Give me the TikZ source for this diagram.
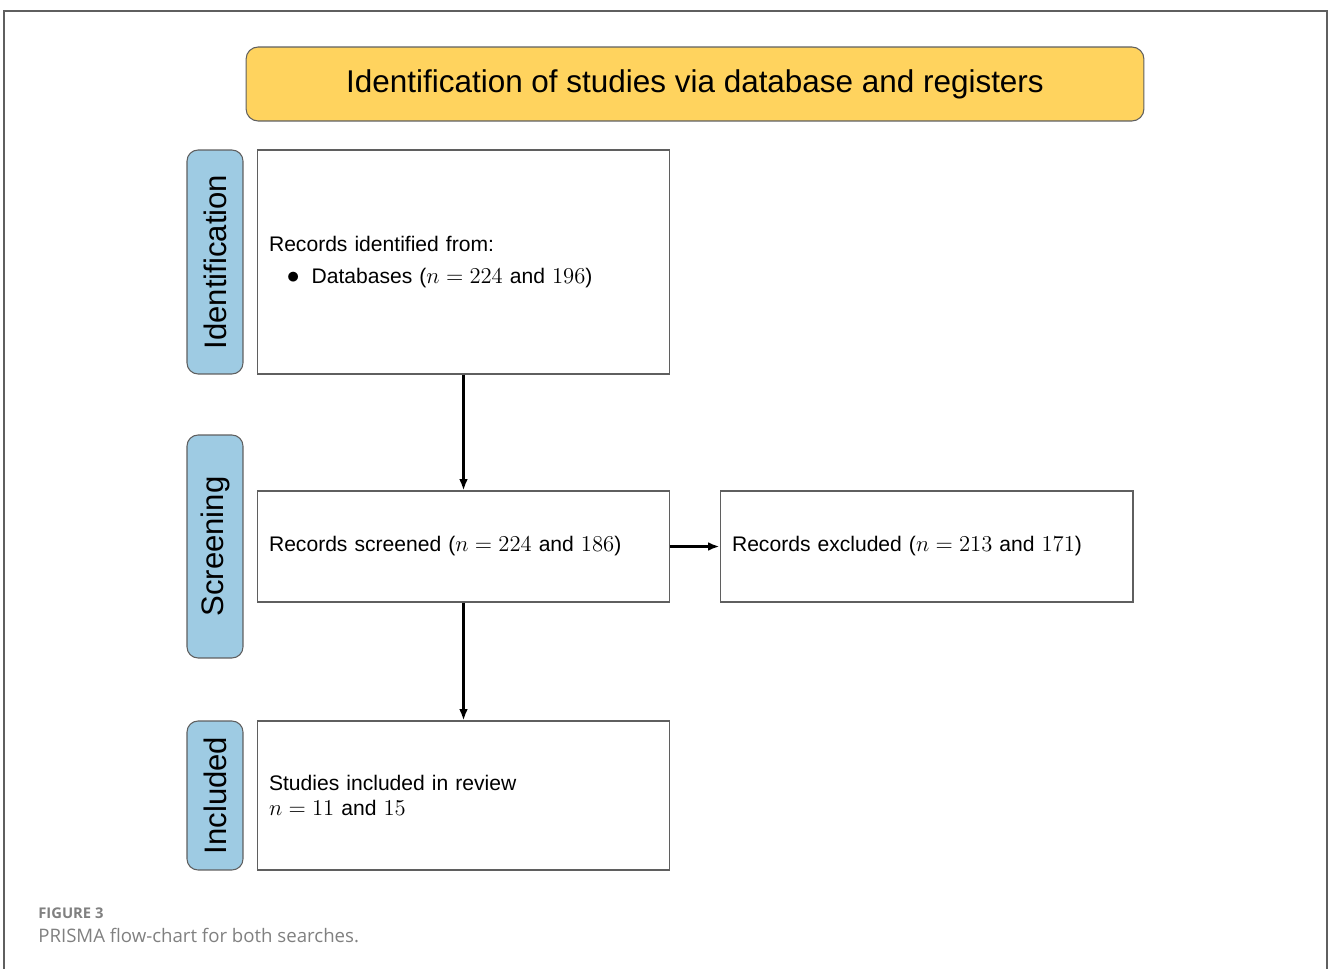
\RequirePackage{fix-cm}
\documentclass[tikz,border=0pt]{standalone}
\usepackage[no-math]{fontspec}
\setmainfont{Liberation Sans}
\newfontfamily\capfont{Open Sans}
\usetikzlibrary{arrows.meta}
\definecolor{frameg}{HTML}{5F5F5F}
\definecolor{titley}{HTML}{FFD35E}
\definecolor{sideb}{HTML}{9ECBE3}
\definecolor{capg}{HTML}{808080}
\newcommand{\mm}[1]{{\fontsize{12.9}{14.5}\selectfont$#1$}}
\begin{document}
\begin{tikzpicture}[x=0.02cm,y=-0.02cm,
  box/.style={draw=frameg, line width=0.6pt, rectangle, minimum width=8.26cm,
    text width=7.78cm, inner xsep=0.24cm, inner ysep=0pt, align=left,
    font=\fontsize{12}{14.5}\selectfont},
  side/.style={draw=frameg, fill=sideb, rounded corners=0.22cm, minimum height=1.12cm,
    inner sep=0pt, line width=0.6pt, rotate=90, font=\fontsize{17.7}{20}\selectfont},
  titlebox/.style={draw=frameg, fill=titley, rounded corners=0.24cm, minimum width=17.96cm,
    minimum height=1.48cm, inner sep=0pt, line width=0.6pt, font=\fontsize{17.9}{20}\selectfont},
  arr/.style={-{Latex[length=6.5pt,width=5pt]}, line width=1.3pt, black},
  captxt/.style={anchor=base west, inner sep=0pt, text=capg}]
\useasboundingbox (0,0) rectangle (1328,969);
\draw[frameg, line width=0.6pt] (4,969) -- (4,11) -- (1327,11) -- (1327,969);
\node[titlebox] (title) at (695,84) {Identification of studies via database and registers};
\node[side, minimum width=4.48cm] (sid) at (215,262) {Identification};
\node[side, minimum width=4.46cm] (sscr) at (215,546.5) {Screening};
\node[side, minimum width=2.98cm] (sinc) at (215,795.5) {Included};
\node[box, minimum height=4.48cm] (b1) at (463.5,262)
  {Records identified from:\\[3.5pt]\hspace*{10.2pt}{\fontsize{14.5}{14.5}\selectfont$\bullet$}\hspace{6.8pt}Databases (\mm{n=224} and \mm{196})};
\node[box, minimum height=2.22cm] (b2) at (463.5,546.5) {Records screened (\mm{n=224} and \mm{186})};
\node[box, minimum height=2.22cm] (b3) at (926.5,546.5) {Records excluded (\mm{n=213} and \mm{171})};
\node[box, minimum height=2.98cm] (b4) at (463.5,795.5)
  {Studies included in review\\\mm{n=11} and \mm{15}};
\draw[arr] (b1) -- (b2);
\draw[arr] (b2) -- (b3);
\draw[arr] (b2) -- (b4);
\node[captxt, font=\capfont\fontsize{8.4}{9}\selectfont\bfseries] (fig) at (38,918) {FIGURE 3};
\node[captxt, font=\capfont\fontsize{10.6}{12}\selectfont] (cap) at (38,942) {PRISMA flow-chart for both searches.};
\end{tikzpicture}
\end{document}
